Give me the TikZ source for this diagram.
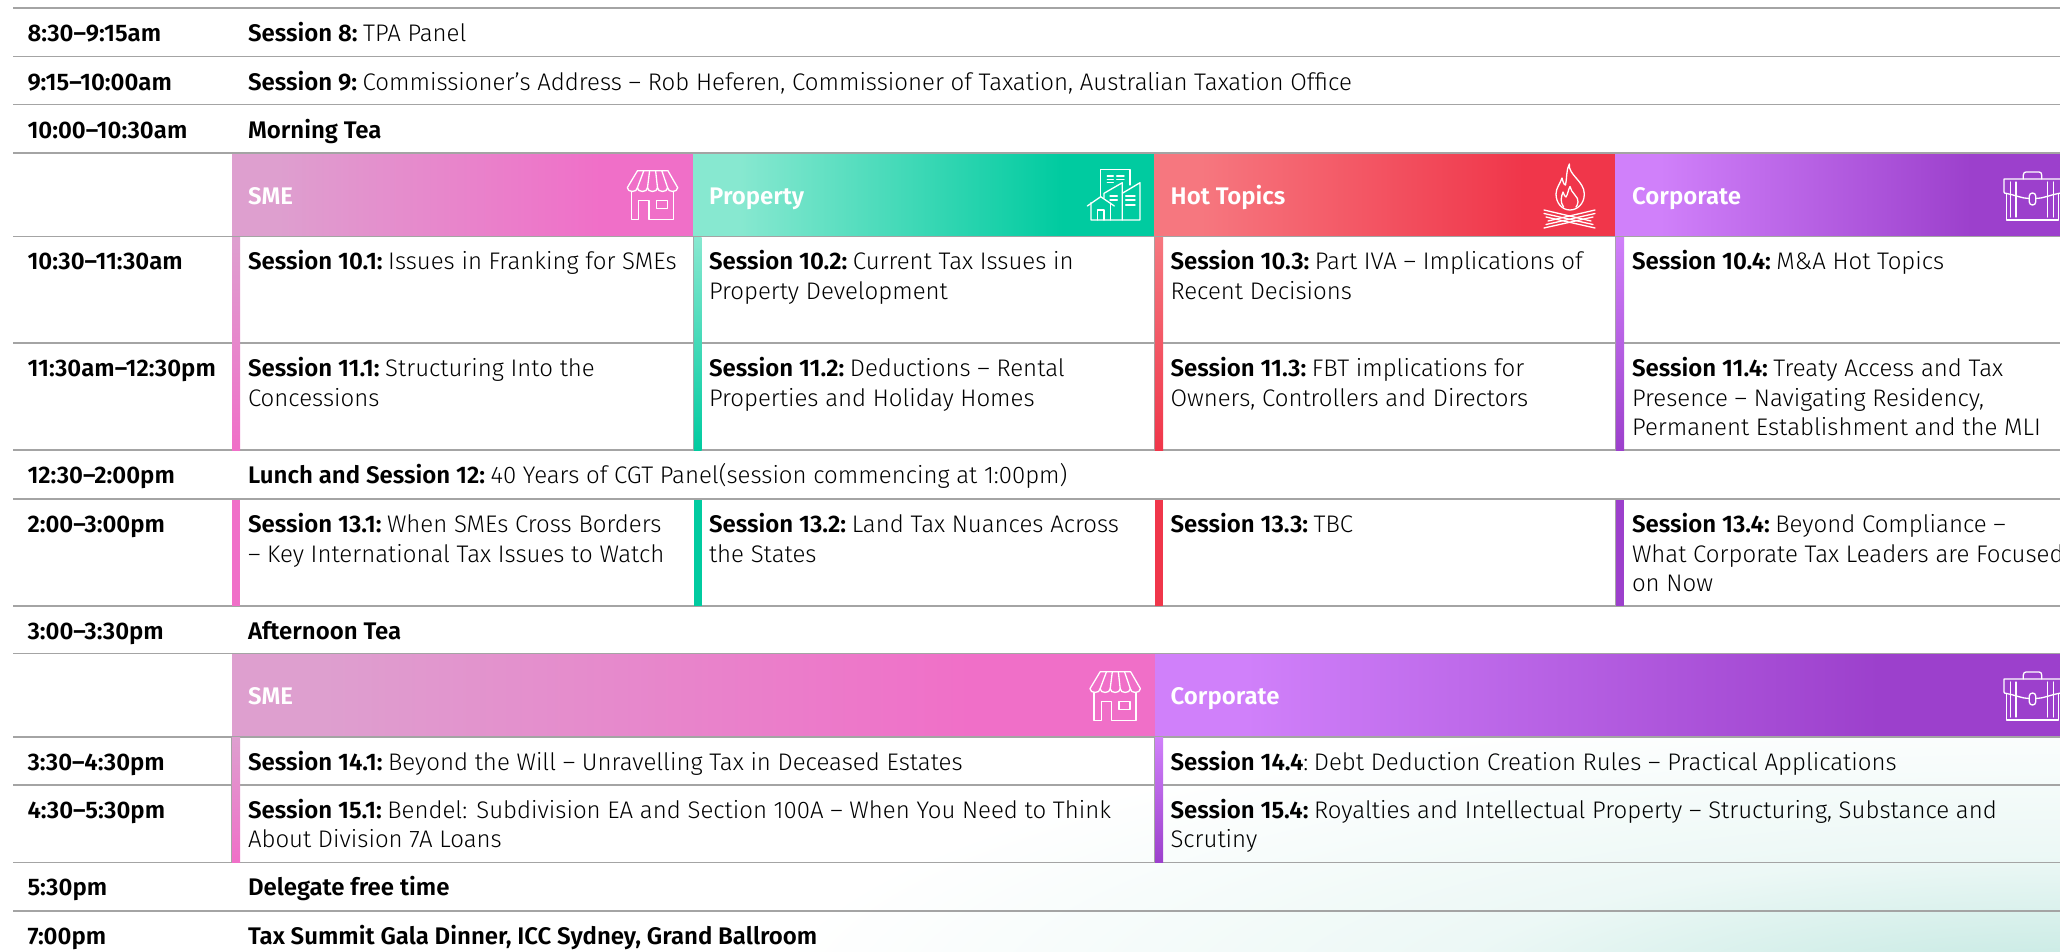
\documentclass[tikz,border=0pt]{standalone}
\usepackage{fontspec}
\setmainfont{Fira Sans}[UprightFont=* Light,BoldFont=* SemiBold]
\usetikzlibrary{shadings}
\definecolor{smea}{HTML}{DE9FCF}\definecolor{smeb}{HTML}{F06FC8}
\definecolor{propa}{HTML}{87E8D0}\definecolor{propb}{HTML}{00CBA0}
\definecolor{hota}{HTML}{F6777F}\definecolor{hotb}{HTML}{F0364A}
\definecolor{corpa}{HTML}{D080FA}\definecolor{corpb}{HTML}{9C40CC}
\definecolor{glowc}{HTML}{CDECE6}
\colorlet{glowm}{glowc!38!white}
\definecolor{rulec}{HTML}{A4A4A4}
\pgfdeclarehorizontalshading{smehdr}{100bp}{color(0bp)=(smea); color(30bp)=(smea); color(65bp)=(smeb); color(100bp)=(smeb)}
\pgfdeclarehorizontalshading{prophdr}{100bp}{color(0bp)=(propa); color(30bp)=(propa); color(65bp)=(propb); color(100bp)=(propb)}
\pgfdeclarehorizontalshading{hothdr}{100bp}{color(0bp)=(hota); color(30bp)=(hota); color(65bp)=(hotb); color(100bp)=(hotb)}
\pgfdeclarehorizontalshading{corphdr}{100bp}{color(0bp)=(corpa); color(30bp)=(corpa); color(65bp)=(corpb); color(100bp)=(corpb)}
\pgfdeclareradialshading{bgglow}{\pgfpoint{0bp}{0bp}}{color(0bp)=(glowc); color(4bp)=(glowc); color(12bp)=(glowm); color(25bp)=(white); color(50bp)=(white)}
\newcommand\sess[2]{\textbf{Session #1:}\hspace{0.23em}#2}
\newcommand\twolines[2]{\vtop{\hbox{#1}\hbox{#2}}}
\newcommand\threelines[3]{\vtop{\hbox{#1}\hbox{#2}\hbox{#3}}}
\tikzset{
  x=1pt,y=-1pt,
  txt/.style={anchor=base west,inner sep=0pt,outer sep=0pt,yshift=-0.7pt,text=black,font=\fontsize{24}{29.5}\selectfont},
  tim/.style={txt,font=\fontsize{24}{29.5}\selectfont\bfseries},
  hdr/.style={anchor=base west,inner sep=0pt,yshift=-0.7pt,text=white,font=\fontsize{24}{29.5}\selectfont\bfseries},
  rowrule/.style={draw=rulec,line width=1.6pt},
  vrule/.style={draw=rulec,line width=1pt},
  icon/.style={draw=white,line width=1.3pt,line join=round,line cap=round},
  storeicon/.pic={
    \draw[icon] (0,17) -- (10.2,0) -- (40.6,0) -- (50.4,17)
      .. controls (50.4,22) and (40.3,22) .. (40.3,17)
      .. controls (40.3,22) and (30.2,22) .. (30.2,17)
      .. controls (30.2,22) and (20.2,22) .. (20.2,17)
      .. controls (20.2,22) and (10.1,22) .. (10.1,17)
      .. controls (10.1,22) and (0,22) .. (0,17);
    \draw[icon] (16.5,0)--(10.1,17) (22.3,0)--(20.2,17) (28.3,0)--(30.2,17) (34.5,0)--(40.3,17);
    \draw[icon] (4,21) -- (4,49) -- (11.3,49) -- (11.3,30) -- (21.7,30) -- (21.7,49) -- (46,49) -- (46,21);
    \draw[icon] (29,30) rectangle (40,38);
  },
  propicon/.pic={
    \draw[icon] (20.7,36) -- (20.7,9.3) -- (50,9.3) -- (50,25);
    \draw[icon] (24,38) -- (24,33.3) -- (42.3,22.7) -- (42.3,60);
    \draw[icon] (42.3,33.3) -- (60,22.7) -- (60,60) -- (11,60) -- (11,42.5);
    \draw[icon] (7.3,46) -- (20.7,36.7) -- (34.3,46);
    \draw[icon] (30.7,43) -- (30.7,60) (17.7,60) -- (17.7,50) -- (24,50) -- (24,60);
    \draw[icon] (27.3,16)--(33.3,16) (36.7,16)--(44,16) (27.3,19.3)--(33.3,19.3) (36.7,19.3)--(44,19.3) (27.3,22.7)--(33.3,22.7);
    \draw[icon] (30,36)--(37.3,36) (30,40)--(37.3,40);
    \draw[icon] (45.7,36)--(55,36) (45.7,40)--(55,40) (45.7,45)--(55,45);
  },
  fireicon/.pic={
    \draw[icon] (39.3,9) .. controls (38,20) and (54.3,26) .. (54.3,39)
      .. controls (54.3,49) and (47,55) .. (40,55)
      .. controls (32,55) and (26,48) .. (26,39)
      .. controls (26,33) and (30,29) .. (32,23)
      .. controls (33,27) and (34,30) .. (35.5,30)
      .. controls (37,24) and (36,15) .. (39.3,9) -- cycle;
    \draw[icon] (33.5,52) .. controls (30,47) and (31,42) .. (33,37)
      .. controls (34,40) and (35,42) .. (36,42)
      .. controls (38,39) and (38,35) .. (40,31.5)
      .. controls (41,38) and (49,42) .. (48,47)
      .. controls (47.5,49.5) and (47,51) .. (46,52);
    \draw[icon] (14,55)--(61,66) (14,58.5)--(63,69.5) (16,62)--(65,73);
    \draw[icon] (65,55)--(18,66) (65,58.5)--(16,69.5) (63,62)--(14,73);
  },
  caseicon/.pic={
    \draw[icon] (33.3,19) -- (33.3,15) .. controls (33.3,13) and (34.5,12) .. (36,12) -- (49,12) .. controls (50.5,12) and (51.7,13) .. (51.7,15) -- (51.7,19);
    \draw[icon] (14,32) -- (14,19) -- (71,19) -- (71,32) (14,32) .. controls (14,33) and (15,33.5) .. (16.5,33.5) (68.5,33.5) .. controls (70,33.5) and (71,33) .. (71,32);
    \draw[icon] (16.5,33.5) -- (16.5,60) -- (68.5,60) -- (68.5,33.5);
    \draw[icon] (16.5,33.5) .. controls (25,35) and (32,38.5) .. (39.3,38.5) (45.7,38.5) .. controls (53,38.5) and (60,35) .. (68.5,33.5);
    \draw[icon] (39.3,36) .. controls (39.3,32) and (45.7,32) .. (45.7,36) -- (45.7,42) .. controls (45.7,46) and (39.3,46) .. (39.3,42) -- cycle;
    \draw[icon] (20.7,22)--(20.7,57) (26,22)--(26,57) (57.3,22)--(57.3,57) (63.3,22)--(63.3,57);
  }
}
\begin{document}
\begin{tikzpicture}
\useasboundingbox (0,0) rectangle (2060,952);
\fill[white] (0,0) rectangle (2060,952);
\begin{scope}
  \clip (0,0) rectangle (2060,952);
  \shade[shading=bgglow] (2060,1000) ellipse [x radius=1300,y radius=300];
\end{scope}
% header bands
\shade[shading=smehdr] (232,153.3) rectangle (693.5,236.3);
\shade[shading=prophdr] (693.5,153.3) rectangle (1154.5,236.3);
\shade[shading=hothdr] (1154.5,153.3) rectangle (1615.5,236.3);
\shade[shading=corphdr] (1615.5,153.3) rectangle (2060,236.3);
\shade[shading=smehdr] (232,653.3) rectangle (1155,736.7);
\shade[shading=corphdr] (1155,653.3) rectangle (2060,736.7);
% rules
\foreach \yy in {8.3,56.7,104.7,153.3,236.3,343,450,499,606,653.3,736.7,785,862.3,910.7}
  \draw[rowrule] (13,\yy) -- (2060,\yy);
% vertical hairlines
\draw[vrule] (693,236.3) -- (693,450) (1154,236.3) -- (1154,450) (1615,236.3) -- (1615,450);
\draw[vrule] (1615,499) -- (1615,606) (231.5,736.7) -- (231.5,862.3) (1154.5,736.7) -- (1154.5,862.3);
% accent bars
\shade[top color=smea,bottom color=smeb] (232,237) rectangle (240,450);
\shade[top color=propa,bottom color=propb] (693.8,237) rectangle (701.5,450);
\shade[top color=hota,bottom color=hotb] (1154.8,237) rectangle (1163,450);
\shade[top color=corpa,bottom color=corpb] (1615.8,237) rectangle (1624,450);
\fill[smeb] (232,499.8) rectangle (240,606);
\fill[propb] (693.8,499.8) rectangle (701.5,606);
\fill[hotb] (1154.8,499.8) rectangle (1163,606);
\fill[corpb] (1615.8,499.8) rectangle (1624,606);
\shade[top color=smea,bottom color=smeb] (232,737.4) rectangle (240,862.3);
\shade[top color=corpa,bottom color=corpb] (1155.2,737.4) rectangle (1163,862.3);
% icons
\pic (storeA) at (627.3,170.7) {storeicon};
\pic (propA) at (1080,160) {propicon};
\pic (fireA) at (1530,155) {fireicon};
\pic (caseA) at (1990,160) {caseicon};
\pic (storeB) at (1090,671.7) {storeicon};
\pic (caseB) at (1990,660) {caseicon};
% times
\node[tim] (t1) at (27.5,41.2) {8:30–9:15am};
\node[tim] (t2) at (27.5,89.8) {9:15–10:00am};
\node[tim] (t3) at (27.5,137.8) {10:00–10:30am};
\node[tim] (t4) at (27.5,268.8) {10:30–11:30am};
\node[tim] (t5) at (27.5,376.2) {11:30am–12:30pm};
\node[tim] (t6) at (27.5,483) {12:30–2:00pm};
\node[tim] (t7) at (27.5,532) {2:00–3:00pm};
\node[tim] (t8) at (27.5,638.8) {3:00–3:30pm};
\node[tim] (t9) at (27.5,769.5) {3:30–4:30pm};
\node[tim] (t10) at (27.5,817.5) {4:30–5:30pm};
\node[tim] (t11) at (27.5,895) {5:30pm};
\node[tim] (t12) at (27.5,943.5) {7:00pm};
% full rows
\node[txt] (s8) at (248,41.2) {\sess{8}{TPA Panel}};
\node[txt] (s9) at (248,89.8) {\sess{9}{Commissioner’s Address – Rob Heferen, Commissioner of Taxation, Australian Taxation Office}};
\node[tim] (mt) at (248,137.8) {Morning Tea};
\node[txt] (s12) at (248,483) {\textbf{Lunch and Session 12:}\hspace{0.23em}40 Years of CGT Panel(session commencing at 1:00pm)};
\node[tim] (at) at (248,638.8) {Afternoon Tea};
\node[tim] (df) at (248,895) {Delegate free time};
\node[tim] (gd) at (248,943.5) {Tax Summit Gala Dinner, ICC Sydney, Grand Ballroom};
% band titles
\node[hdr] (h1) at (248,203.8) {SME};
\node[hdr] (h2) at (709,203.8) {Property};
\node[hdr] (h3) at (1170.5,203.8) {Hot Topics};
\node[hdr] (h4) at (1632,203.8) {Corporate};
\node[hdr] (h5) at (248,704) {SME};
\node[hdr] (h6) at (1170.5,704) {Corporate};
% sessions
\node[txt] (s101) at (248,268.8) {\sess{10.1}{Issues in Franking for SMEs}};
\node[txt] (s102) at (709,268.8) {\twolines{\sess{10.2}{Current Tax Issues in}}{Property Development}};
\node[txt] (s103) at (1170.5,268.8) {\twolines{\sess{10.3}{Part IVA – Implications of}}{Recent Decisions}};
\node[txt] (s104) at (1632,268.8) {\sess{10.4}{M\&A Hot Topics}};
\node[txt] (s111) at (248,376.2) {\twolines{\sess{11.1}{Structuring Into the}}{Concessions}};
\node[txt] (s112) at (709,376.2) {\twolines{\sess{11.2}{Deductions – Rental}}{Properties and Holiday Homes}};
\node[txt] (s113) at (1170.5,376.2) {\twolines{\sess{11.3}{FBT implications for}}{Owners, Controllers and Directors}};
\node[txt] (s114) at (1632,376.2) {\threelines{\sess{11.4}{Treaty Access and Tax}}{Presence – Navigating Residency,}{Permanent Establishment and the MLI}};
\node[txt] (s131) at (248,532) {\twolines{\sess{13.1}{When SMEs Cross Borders}}{– Key International Tax Issues to Watch}};
\node[txt] (s132) at (709,532) {\twolines{\sess{13.2}{Land Tax Nuances Across}}{the States}};
\node[txt] (s133) at (1170.5,532) {\sess{13.3}{TBC}};
\node[txt] (s134) at (1632,532) {\threelines{\sess{13.4}{Beyond Compliance –}}{What Corporate Tax Leaders are Focused}{on Now}};
\node[txt] (s141) at (248,769.5) {\sess{14.1}{Beyond the Will – Unravelling Tax in Deceased Estates}};
\node[txt] (s144) at (1170.5,769.5) {\textbf{Session 14.4}:\hspace{0.23em}Debt Deduction Creation Rules – Practical Applications};
\node[txt] (s151) at (248,817.5) {\twolines{\sess{15.1}{Bendel: Subdivision EA and Section 100A – When You Need to Think}}{About Division 7A Loans}};
\node[txt] (s154) at (1170.5,817.5) {\twolines{\sess{15.4}{Royalties and Intellectual Property – Structuring, Substance and}}{Scrutiny}};
\end{tikzpicture}
\end{document}
